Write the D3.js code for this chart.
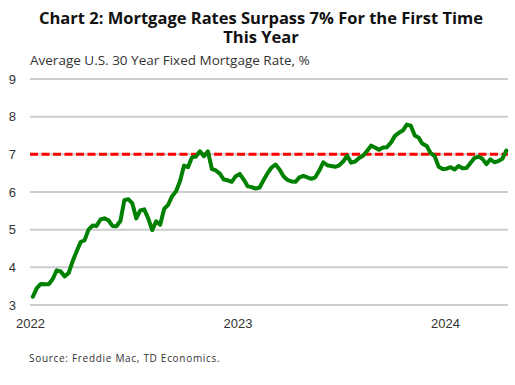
<!DOCTYPE html>
<head>
    <meta charset="utf-8">
    <title>Mortgage rates</title>
<style>
    body {
        margin: 0;
        background: #fff;
        font-family: "Open Sans", sans-serif;
    }

    .title {
        font-size: 16.5px;
        font-weight: bold;
        fill: #111;
    }

    .subtitle {
        font-size: 13.5px;
        fill: #333;
    }

    .tick text {
        font-size: 13px;
        fill: #333;
    }

    .source {
        font-size: 10px;
        letter-spacing: 0.7px;
        fill: #333;
    }
</style>
</head>
<body>
<script src="https://d3js.org/d3.v7.min.js"></script>
<script>

    // weekly Freddie Mac 30y fixed
    const dates = [
        "2022-01-06","2022-01-13","2022-01-20","2022-01-27","2022-02-03","2022-02-10","2022-02-17","2022-02-24",
        "2022-03-03","2022-03-10","2022-03-17","2022-03-24","2022-03-31","2022-04-07","2022-04-14","2022-04-21",
        "2022-04-28","2022-05-05","2022-05-12","2022-05-19","2022-05-26","2022-06-02","2022-06-09","2022-06-16",
        "2022-06-23","2022-06-30","2022-07-07","2022-07-14","2022-07-21","2022-07-28","2022-08-04","2022-08-11",
        "2022-08-18","2022-08-25","2022-09-01","2022-09-08","2022-09-15","2022-09-22","2022-09-29","2022-10-06",
        "2022-10-13","2022-10-20","2022-10-27","2022-11-03","2022-11-10","2022-11-17","2022-11-23","2022-12-01",
        "2022-12-08","2022-12-15","2022-12-22","2022-12-29",
        "2023-01-05","2023-01-12","2023-01-19","2023-01-26","2023-02-02","2023-02-09","2023-02-16","2023-02-23",
        "2023-03-02","2023-03-09","2023-03-16","2023-03-23","2023-03-30","2023-04-06","2023-04-13","2023-04-20",
        "2023-04-27","2023-05-04","2023-05-11","2023-05-18","2023-05-25","2023-06-01","2023-06-08","2023-06-15",
        "2023-06-22","2023-06-29","2023-07-06","2023-07-13","2023-07-20","2023-07-27","2023-08-03","2023-08-10",
        "2023-08-17","2023-08-24","2023-08-31","2023-09-07","2023-09-14","2023-09-21","2023-09-28","2023-10-05",
        "2023-10-12","2023-10-19","2023-10-26","2023-11-02","2023-11-09","2023-11-16","2023-11-22","2023-11-30",
        "2023-12-07","2023-12-14","2023-12-21","2023-12-28",
        "2024-01-04","2024-01-11","2024-01-18","2024-01-25","2024-02-01","2024-02-08","2024-02-15","2024-02-22",
        "2024-02-29","2024-03-07","2024-03-14","2024-03-21","2024-03-28","2024-04-04","2024-04-11","2024-04-18"
    ];

    const rates = [
        3.22, 3.45, 3.56, 3.55, 3.55, 3.69, 3.92, 3.89,
        3.76, 3.85, 4.16, 4.42, 4.67, 4.72, 5.00, 5.11,
        5.10, 5.27, 5.30, 5.25, 5.10, 5.09, 5.23, 5.78,
        5.81, 5.70, 5.30, 5.51, 5.54, 5.30, 4.99, 5.22,
        5.13, 5.55, 5.66, 5.89, 6.02, 6.29, 6.70, 6.66,
        6.92, 6.94, 7.08, 6.95, 7.08, 6.61, 6.58, 6.49,
        6.33, 6.31, 6.27, 6.42,
        6.48, 6.33, 6.15, 6.13, 6.09, 6.12, 6.32, 6.50,
        6.65, 6.73, 6.60, 6.42, 6.32, 6.28, 6.27, 6.39,
        6.43, 6.39, 6.35, 6.39, 6.57, 6.79, 6.71, 6.69,
        6.67, 6.71, 6.81, 6.96, 6.78, 6.81, 6.90, 6.96,
        7.09, 7.23, 7.18, 7.12, 7.18, 7.19, 7.31, 7.49,
        7.57, 7.63, 7.79, 7.76, 7.50, 7.44, 7.29, 7.22,
        7.03, 6.95, 6.67, 6.61,
        6.62, 6.66, 6.60, 6.69, 6.63, 6.64, 6.77, 6.90,
        6.94, 6.88, 6.74, 6.87, 6.79, 6.82, 6.88, 7.10
    ];

    const yTicks = [3, 4, 5, 6, 7, 8, 9];
    const xTicks = ["2022-01-01", "2023-01-01", "2024-01-01"];
    const threshold = 7;

    const W = 515, H = 385;
    const plot = {left: 30, right: 508, top: 79, bottom: 305};

    const parse = d3.utcParse("%Y-%m-%d");
    const data = dates.map((d, i) => ({date: parse(d), rate: rates[i]}));

    const svg = d3.select("body").append("svg")
        .attr("width", W)
        .attr("height", H);

    const x = d3.scaleUtc()
        .domain([parse("2022-01-01"), parse("2024-04-21")])
        .range([plot.left, plot.right]);

    const y = d3.scaleLinear().domain([3, 9]).range([plot.bottom, plot.top]);

    // title, two lines in one text
    const title = svg.append("text").attr("class", "title")
        .attr("text-anchor", "middle");
    title.append("tspan").attr("x", 261).attr("y", 24)
        .text("Chart 2: Mortgage Rates Surpass 7% For the First Time");
    title.append("tspan").attr("x", 261).attr("dy", 19)
        .text("This Year");

    svg.append("text").attr("class", "subtitle")
        .attr("x", 30).attr("y", 65)
        .text("Average U.S. 30 Year Fixed Mortgage Rate, %");

    // gridlines
    svg.append("g")
        .selectAll("line")
        .data(yTicks)
        .join("line")
        .attr("x1", plot.left).attr("x2", plot.right)
        .attr("y1", d => y(d)).attr("y2", d => y(d))
        .attr("stroke", "#cccccc")
        .attr("stroke-width", 2);

    const yAxis = svg.append("g")
        .attr("transform", `translate(${plot.left},0)`)
        .call(d3.axisLeft(y).tickValues(yTicks).tickFormat(d3.format("d")).tickSize(0).tickPadding(14));
    yAxis.select(".domain").remove();

    const xAxis = svg.append("g")
        .attr("transform", `translate(0,${plot.bottom})`)
        .call(d3.axisBottom(x).tickValues(xTicks.map(parse)).tickFormat(d3.utcFormat("%Y")).tickSize(0).tickPadding(14));
    xAxis.select(".domain").remove();

    // 7% line
    svg.append("line")
        .attr("x1", plot.left).attr("x2", plot.right)
        .attr("y1", y(threshold)).attr("y2", y(threshold))
        .attr("stroke", "#ff0000")
        .attr("stroke-width", 3)
        .attr("stroke-dasharray", "8,3.5");

    const line = d3.line()
        .x(d => x(d.date))
        .y(d => y(d.rate));

    svg.append("path")
        .datum(data)
        .attr("fill", "none")
        .attr("stroke", "#008000")
        .attr("stroke-width", 4)
        .attr("stroke-linejoin", "round")
        .attr("stroke-linecap", "round")
        .attr("d", line);

    svg.append("text").attr("class", "source")
        .attr("x", 29).attr("y", 362)
        .text("Source: Freddie Mac, TD Economics.");
</script>
</body>
</html>
